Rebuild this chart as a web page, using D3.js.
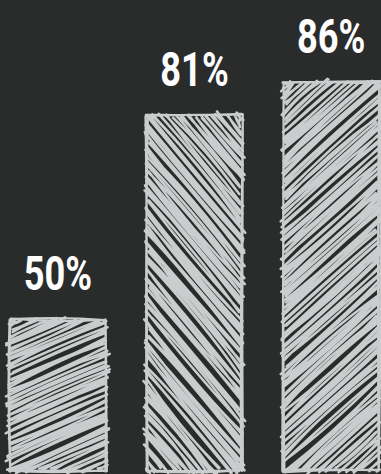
<!DOCTYPE html>
<html>
<head>
<meta charset="utf-8">
<script src="https://cdn.jsdelivr.net/npm/d3@7"></script>
<style>
html,body{margin:0;padding:0;background:#2a2c2c;}
svg{display:block;}
</style>
</head>
<body>
<svg id="chart" width="381" height="474"></svg>
<script>
const categories = ["A", "B", "C"];
const values = [50, 81, 86];
const valueLabels = ["50%", "81%", "86%"];

const W = 381, H = 474;
const BG = "#2a2c2c", INK = "#cbcccd";
const hachureAngles = [-24, 50, -42]; // degrees, per bar (sketch style)

// seeded PRNG for the hand-drawn jitter (decoration only)
function mulberry32(a){return function(){a|=0;a=a+0x6D2B79F5|0;let t=Math.imul(a^a>>>15,1|a);t=t+Math.imul(t^t>>>7,61|t)^t;return((t^t>>>14)>>>0)/4294967296;};}
const rnd = mulberry32(777);
const jit = (s) => (rnd()*2-1)*s;

const svg = d3.select("#chart");
svg.append("rect").attr("width", W).attr("height", H).attr("fill", BG);

const x = d3.scaleBand().domain(categories).range([10, 379]).paddingInner(0.3).paddingOuter(0);
const y = d3.scaleLinear().domain([27, 100]).range([471, -10]);

function roughLine(x1, y1, x2, y2, r, bowMax){
  const dx = x2-x1, dy = y2-y1, len = Math.hypot(dx,dy);
  const nx = -dy/(len||1), ny = dx/(len||1);
  const bow = jit(Math.min(bowMax, len*0.03));
  const a = [x1+jit(r), y1+jit(r)], b = [x2+jit(r), y2+jit(r)];
  const c1 = [x1+dx*0.33+nx*bow+jit(r*0.7), y1+dy*0.33+ny*bow+jit(r*0.7)];
  const c2 = [x1+dx*0.67+nx*bow+jit(r*0.7), y1+dy*0.67+ny*bow+jit(r*0.7)];
  return `M${a[0]},${a[1]}C${c1[0]},${c1[1]} ${c2[0]},${c2[1]} ${b[0]},${b[1]}`;
}

function clipLine(px, py, dx, dy, x0, y0, x1, y1){
  let t0 = -1e9, t1 = 1e9;
  const p = [-dx, dx, -dy, dy], q = [px-x0, x1-px, py-y0, y1-py];
  for (let i=0;i<4;i++){
    if (Math.abs(p[i])<1e-9){ if (q[i]<0) return null; continue; }
    const t = q[i]/p[i];
    if (p[i]<0){ if (t>t1) return null; if (t>t0) t0=t; }
    else { if (t<t0) return null; if (t<t1) t1=t; }
  }
  return [px+dx*t0, py+dy*t0, px+dx*t1, py+dy*t1];
}

const bars = svg.append("g");
values.forEach((v, i) => {
  const bx0 = x(categories[i]), bx1 = bx0 + x.bandwidth();
  const by0 = y(v), by1 = y(27);
  const g = bars.append("g");
  const ang = hachureAngles[i]*Math.PI/180;
  const dx = Math.cos(ang), dy = Math.sin(ang);
  const nx = -dy, ny = dx;
  const cx = (bx0+bx1)/2, cy = (by0+by1)/2;
  const half = Math.hypot(bx1-bx0, by1-by0)/2 + 2;
  let d = "";
  let s = -half;
  while (s <= half){
    const px = cx + nx*s, py = cy + ny*s;
    const seg = clipLine(px, py, dx, dy, bx0+1, by0+1, bx1-1, by1-1);
    if (seg){
      const e1 = jit(3)+1.5, e2 = jit(3)+1.5;
      const sx1 = seg[0]-dx*e1, sy1 = seg[1]-dy*e1, sx2 = seg[2]+dx*e2, sy2 = seg[3]+dy*e2;
      d += roughLine(sx1, sy1, sx2, sy2, 1.8, 3.5);
      d += roughLine(sx1, sy1, sx2, sy2, 1.8, 3.5);
    }
    s += 4.6 + jit(1.6);
  }
  g.append("path").attr("d", d).attr("fill", "none").attr("stroke", INK)
    .attr("stroke-width", 2.5).attr("stroke-linecap", "round");
  let o = "";
  const corners = [[bx0,by0],[bx1,by0],[bx1,by1],[bx0,by1]];
  for (let k=0;k<4;k++){
    const a = corners[k], b = corners[(k+1)%4];
    o += roughLine(a[0], a[1], b[0], b[1], 1.3, 2);
    o += roughLine(a[0], a[1], b[0], b[1], 1.3, 2);
  }
  g.append("path").attr("d", o).attr("fill", "none").attr("stroke", INK)
    .attr("stroke-width", 2.2).attr("stroke-linecap", "round");
  svg.append("text")
    .attr("transform", `translate(${(bx0+bx1)/2},${by0-29}) scale(0.74,1)`)
    .attr("text-anchor", "middle")
    .attr("font-family", "Roboto, 'DejaVu Sans', sans-serif")
    .attr("font-weight", 700)
    .attr("font-size", 49)
    .attr("fill", "#ffffff")
    .text(valueLabels[i]);
});
</script>
</body>
</html>
